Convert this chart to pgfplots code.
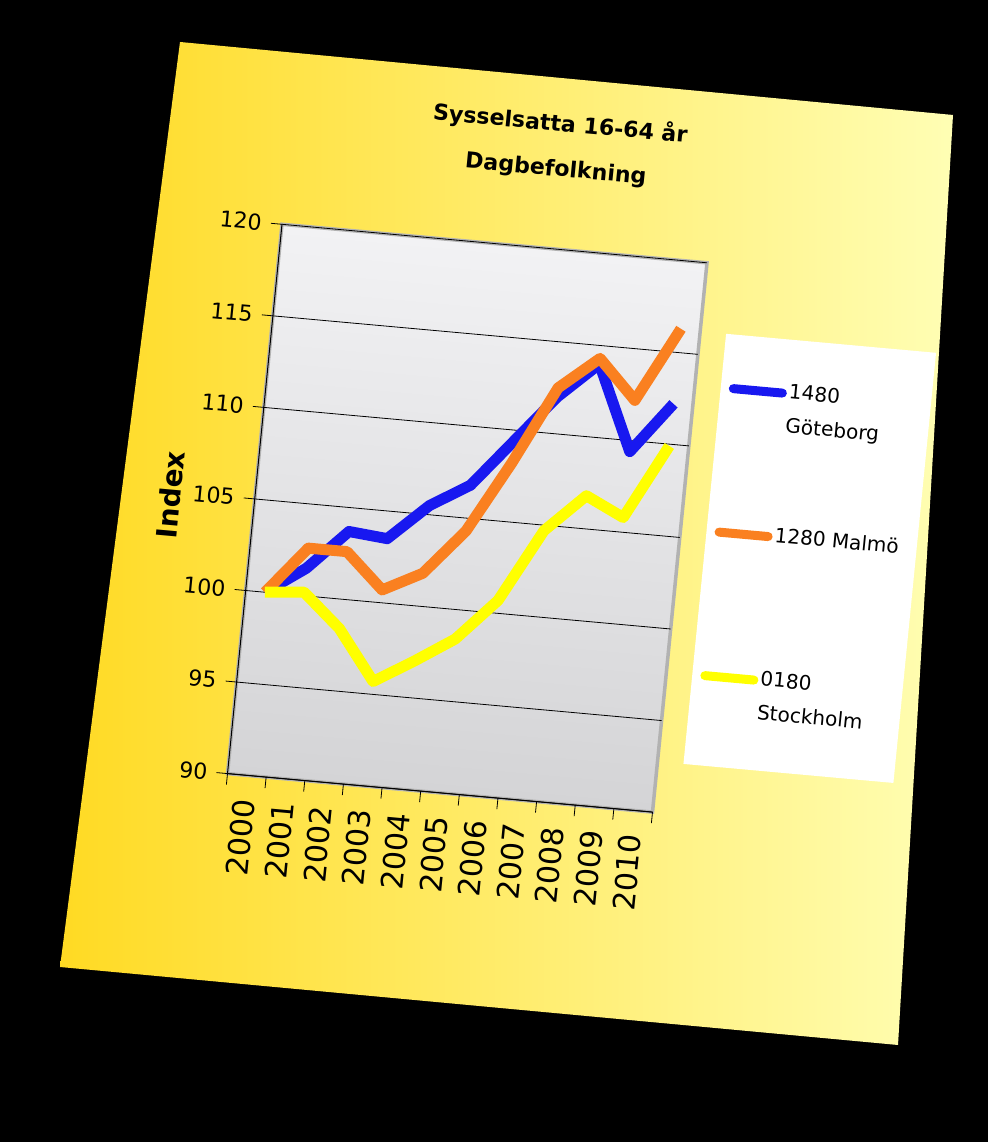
\documentclass[border=0pt]{standalone}
\usepackage{pgfplots}
\pgfplotsset{compat=1.18}
\usepackage{fontspec}
\setmainfont{DejaVu Sans}
\definecolor{cblue}{RGB}{24,24,240}
\definecolor{corange}{RGB}{250,128,32}
\definecolor{cyellow}{RGB}{255,255,0}
\definecolor{cardL}{RGB}{255,218,35}
\definecolor{cardM}{RGB}{255,244,105}
\definecolor{cardR}{RGB}{255,254,180}
\definecolor{plotT}{RGB}{242,242,244}
\definecolor{plotB}{RGB}{212,212,214}
\newcommand{\legtext}[1]{\raisebox{0pt}[3pt]{\parbox[t]{125pt}{#1}}}
\begin{document}
\begin{tikzpicture}[x=1pt,y=1pt]
\fill[black] (0,0) rectangle (988,1142);
\shade[left color=cardL, middle color=cardM, right color=cardR]
  (180,1100) -- (953,1027) -- (898,97) -- (60,175) -- cycle;
\begin{scope}[transform canvas={cm={1,-0.0906,0.0987,0.9951,(227.5pt,368.4pt)}}]
\begin{axis}[
  at={(0pt,0pt)}, anchor=south west,
  scale only axis, width=425pt, height=552pt,
  xmin=-0.5, xmax=10.5, ymin=90, ymax=120,
  clip=false,
  ytick={90,95,100,105,110,115,120},
  xtick={-0.5,0.5,1.5,2.5,3.5,4.5,5.5,6.5,7.5,8.5,9.5,10.5},
  xticklabels={},
  extra x ticks={0,1,2,3,4,5,6,7,8,9,10},
  extra x tick labels={2000,2001,2002,2003,2004,2005,2006,2007,2008,2009,2010},
  extra x tick style={major tick length=0pt, tick style={draw=none}},
  tick align=outside, major tick length=11pt,
  tick style={black, line width=0.8pt},
  axis lines*=left,
  axis line style={black, line width=1pt, -},
  axis background/.style={draw=gray!60, line width=3.5pt, top color=plotT, bottom color=plotB},
  ymajorgrids, major grid style={black, line width=0.8pt},
  /pgf/number format/assume math mode=true,
  yticklabel style={font=\fontsize{22}{26}\selectfont, inner sep=0pt, xshift=-9pt},
  xticklabel style={font=\fontsize{30}{32}\selectfont, rotate=90, anchor=east, inner sep=0pt},
  xticklabel shift=24pt,
  ylabel={\textbf{Index}},
  ylabel style={font=\fontsize{28}{32}\selectfont, at={(axis description cs:-0.198,0.494)}, rotate=0, anchor=center},
  title={Sysselsatta 16-64 år\\Dagbefolkning},
  title style={font=\bfseries\fontsize{22}{45}\selectfont, align=center, at={(axis description cs:0.626,1.175)}, anchor=center},
  legend cell align=left,
  legend style={at={(axis description cs:1.056,0.851)}, anchor=north west, draw=none, fill=none,
    inner xsep=10pt, inner ysep=36pt, row sep=131pt, font=\fontsize{20}{34}\selectfont,
    cells={anchor=north west}, nodes={inner sep=2pt}},
  legend image code/.code={\draw[#1, line width=9pt, line cap=round] (4pt,0pt) -- (53pt,0pt);},
  every axis plot/.append style={line width=11pt, line join=round},
]
\fill[white] (axis description cs:1.061,0.092) rectangle (axis description cs:1.555,0.875);
\addplot[cblue] coordinates {(0,100) (1,101.5) (2,103.7) (3,103.5) (4,105.5) (5,106.8) (6,109.4) (7,112.0) (8,114.0) (9,109.4) (10,112.2)};
\addlegendentry{\legtext{1480\\Göteborg}}
\addplot[corange] coordinates {(0,100) (1,102.6) (2,102.6) (3,100.7) (4,101.8) (5,104.3) (6,108.2) (7,112.5) (8,114.3) (9,112.2) (10,116.3)};
\addlegendentry{\legtext{1280 Malmö}}
\addplot[cyellow] coordinates {(0,100) (1,100.2) (2,98.4) (3,95.7) (4,97.0) (5,98.4) (6,100.7) (7,104.7) (8,106.8) (9,105.8) (10,109.9)};
\addlegendentry{\legtext{0180\\Stockholm}}
\end{axis}
\end{scope}
\pgfresetboundingbox
\path[use as bounding box] (0,0) rectangle (988,1142);
\end{tikzpicture}
\end{document}
